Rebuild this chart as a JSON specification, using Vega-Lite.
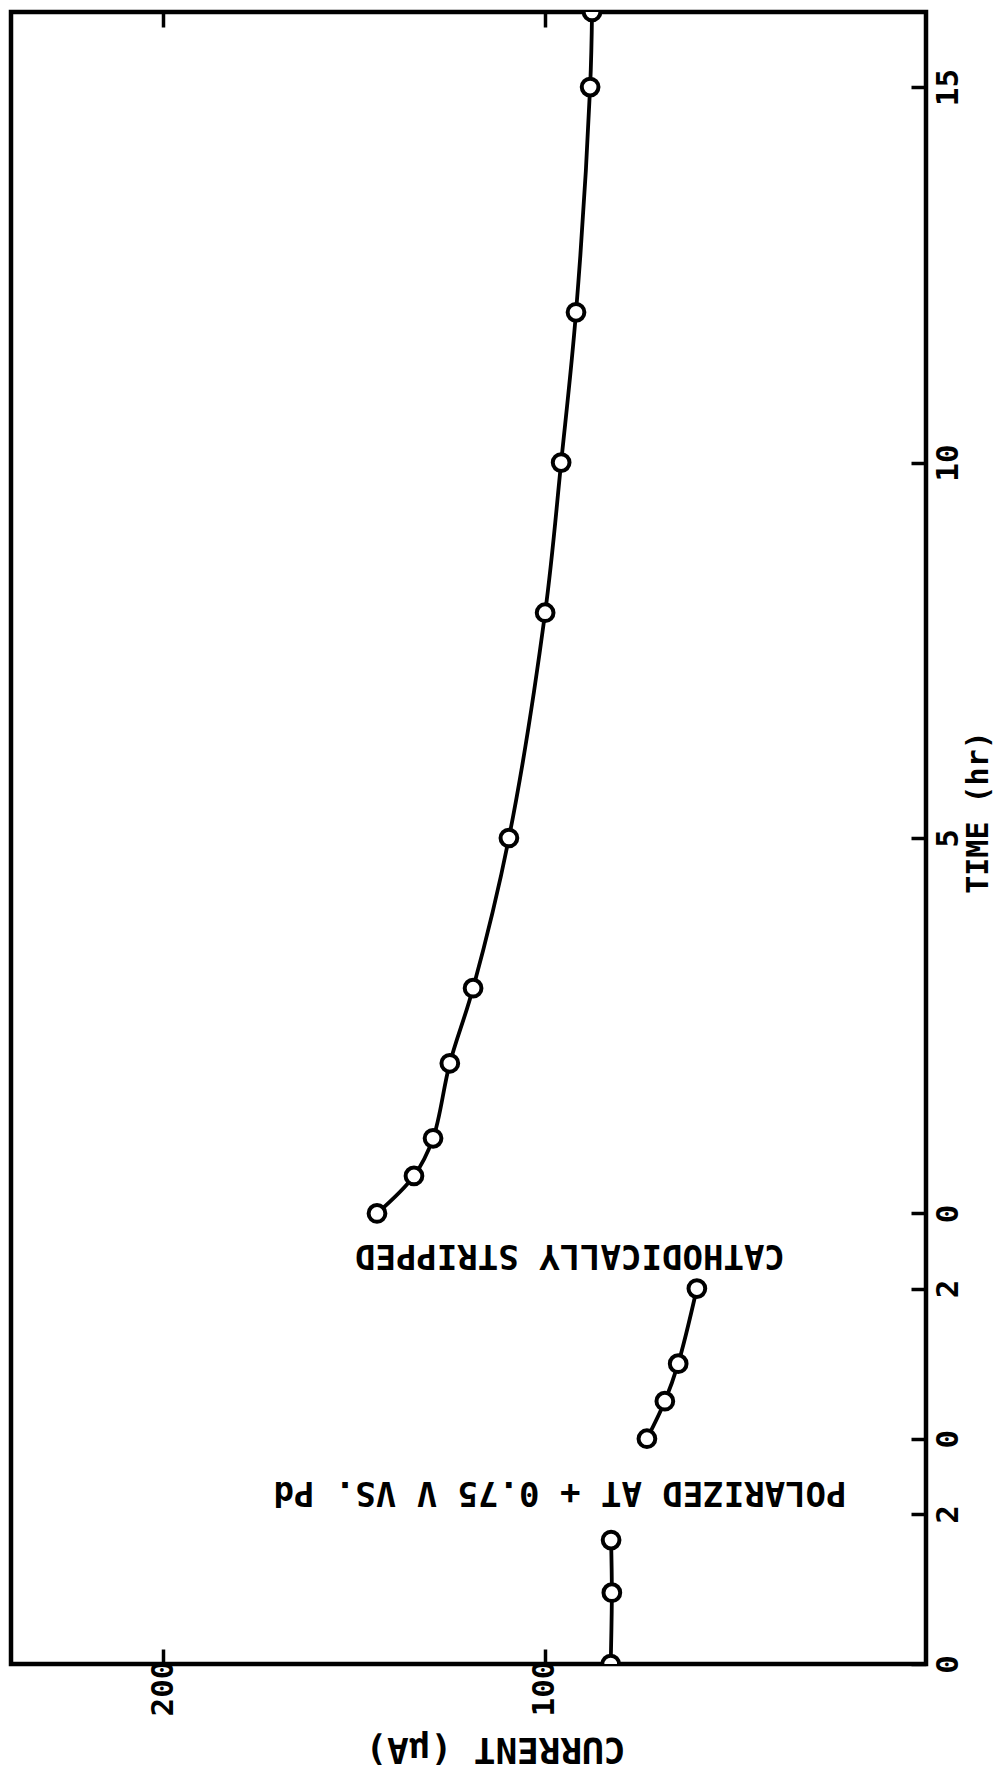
{
  "$schema": "https://vega.github.io/schema/vega-lite/v6.json",
  "width": 915,
  "height": 1652,
  "autosize": {"type": "none"},
  "padding": {"left": 11, "top": 12, "right": 77, "bottom": 114},
  "background": "white",
  "config": {
    "view": {"stroke": "black", "strokeWidth": 4.5},
    "font": "DejaVu Sans Mono"
  },
  "datasets": {
    "points": [
      {"segment": "initial", "time": 0, "current": 82.7},
      {"segment": "initial", "time": 0.95, "current": 82.4},
      {"segment": "initial", "time": 1.65, "current": 82.6},
      {"segment": "polarized", "time": 0, "current": 73.2},
      {"segment": "polarized", "time": 0.5, "current": 68.5},
      {"segment": "polarized", "time": 1, "current": 65.0},
      {"segment": "polarized", "time": 2, "current": 60.1},
      {"segment": "cathodic", "time": 0, "current": 144.0},
      {"segment": "cathodic", "time": 0.5, "current": 134.3},
      {"segment": "cathodic", "time": 1, "current": 129.3},
      {"segment": "cathodic", "time": 2, "current": 124.9},
      {"segment": "cathodic", "time": 3, "current": 118.8},
      {"segment": "cathodic", "time": 5, "current": 109.4},
      {"segment": "cathodic", "time": 8, "current": 99.9},
      {"segment": "cathodic", "time": 10, "current": 95.7},
      {"segment": "cathodic", "time": 12, "current": 91.8},
      {"segment": "cathodic", "time": 15, "current": 88.1},
      {"segment": "cathodic", "time": 16, "current": 87.6}
    ],
    "notes": [
      {"segment": "polarized", "time": 2.45, "current": 93.4, "label": "CATHODICALLY STRIPPED"},
      {"segment": "initial", "time": 2.29, "current": 96.0, "label": "POLARIZED AT + 0.75 V  VS. Pd"}
    ]
  },
  "resolve": {"axis": {"x": "independent"}},
  "layer": [
    {
      "data": {"name": "points"},
      "transform": [
        {"calculate": "datum.time + (datum.segment === 'initial' ? 0 : datum.segment === 'polarized' ? 3 : 6)", "as": "pos"}
      ],
      "mark": {"type": "line", "color": "black", "strokeWidth": 3.8, "interpolate": "catmull-rom", "clip": true},
      "encoding": {
        "x": {
          "field": "current", "type": "quantitative",
          "scale": {"domain": [0, 240], "reverse": true, "nice": false, "zero": false},
          "axis": {
            "orient": "bottom", "values": [100, 200], "domain": false, "grid": false,
            "tickSize": -15, "tickWidth": 3.5, "tickColor": "black",
            "labelAngle": 270, "labelFontSize": 31, "labelFont": "DejaVu Sans Mono", "labelFontWeight": "bold",
            "labelColor": "black", "labelPadding": 11, "labelBound": false, "labelOverlap": false, "labelFlush": false,
            "title": "CURRENT (μA)", "titleAngle": 180, "titleFontSize": 36, "titleFont": "DejaVu Sans Mono",
            "titleFontWeight": "bold", "titleColor": "black", "titleX": 484, "titleY": 84,
            "titleAlign": "center", "titleBaseline": "middle"
          }
        },
        "y": {
          "field": "pos", "type": "quantitative",
          "scale": {"domain": [0, 22], "nice": false, "zero": false},
          "axis": {
            "orient": "right", "values": [0, 2, 3, 5, 6, 11, 16, 21], "domain": false, "grid": false,
            "labelExpr": "datum.value < 3 ? datum.value : (datum.value < 6 ? datum.value - 3 : datum.value - 6)",
            "tickSize": -15, "tickWidth": 3.5, "tickColor": "black",
            "labelAngle": 270, "labelFontSize": 31, "labelFont": "DejaVu Sans Mono", "labelFontWeight": "bold",
            "labelColor": "black", "labelPadding": 22, "labelBound": false, "labelOverlap": false, "labelFlush": false,
            "title": "TIME (hr)", "titleAngle": 270, "titleFontSize": 30, "titleFont": "DejaVu Sans Mono",
            "titleFontWeight": "bold", "titleColor": "black", "titleX": 52, "titleY": 800,
            "titleAlign": "center", "titleBaseline": "middle"
          }
        },
        "detail": {"field": "segment"},
        "order": {"field": "time", "type": "quantitative"}
      }
    },
    {
      "data": {"name": "points"},
      "transform": [
        {"calculate": "datum.time + (datum.segment === 'initial' ? 0 : datum.segment === 'polarized' ? 3 : 6)", "as": "pos"}
      ],
      "mark": {"type": "point", "shape": "circle", "filled": true, "fill": "white", "stroke": "black", "strokeWidth": 4, "size": 280, "opacity": 1, "clip": true},
      "encoding": {
        "x": {
          "field": "current", "type": "quantitative",
          "axis": {
            "orient": "top", "values": [100, 200], "domain": false, "grid": false,
            "tickSize": -15, "tickWidth": 3.5, "tickColor": "black", "labels": false, "title": null
          }
        },
        "y": {"field": "pos", "type": "quantitative"}
      }
    },
    {
      "data": {"name": "notes"},
      "transform": [
        {"calculate": "datum.time + (datum.segment === 'initial' ? 0 : datum.segment === 'polarized' ? 3 : 6)", "as": "pos"}
      ],
      "mark": {"type": "text", "angle": 180, "font": "DejaVu Sans Mono", "fontWeight": "bold", "fontSize": 34, "color": "black", "align": "center", "baseline": "middle"},
      "encoding": {
        "x": {"field": "current", "type": "quantitative", "axis": null},
        "y": {"field": "pos", "type": "quantitative"},
        "text": {"field": "label"}
      }
    }
  ]
}
